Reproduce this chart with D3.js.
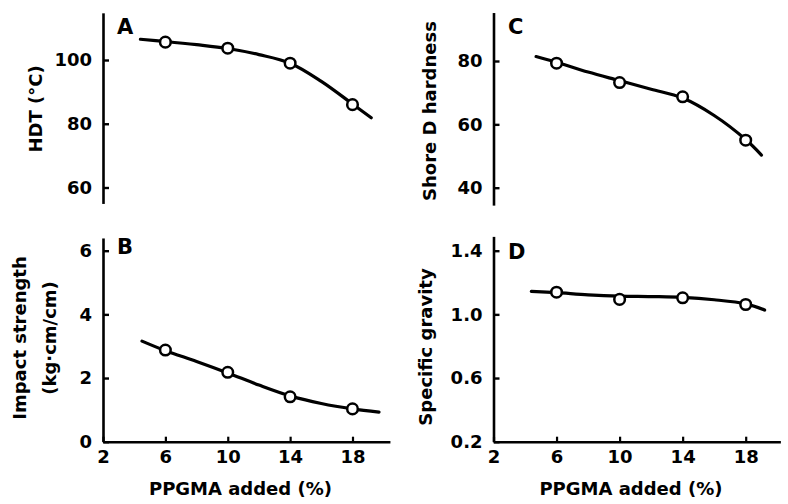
<!DOCTYPE html>
<html>
<head>
<meta charset="utf-8">
<script src="https://cdn.jsdelivr.net/npm/d3@7"></script>
<style>
  body { margin: 0; background: #fff; }
  svg text { font-family: "DejaVu Sans", sans-serif; font-weight: bold; fill: #000; }
</style>
</head>
<body>
<div id="chart"></div>
<script>
// PPGMA added (%) at which samples were measured
const ppgma = [6, 10, 14, 18];
const xTicks = [2, 6, 10, 14, 18];

// measured values (open circles)
const hdt = [105.6, 103.7, 99, 86];
const impact = [2.88, 2.18, 1.41, 1.03];
const shore = [79.3, 73.2, 68.7, 55];
const gravity = [1.139, 1.094, 1.104, 1.062];

// drawn trend curves (x, y)
const hdtCurve = [[4.4, 106.5], [6, 105.8], [8, 104.8], [10, 103.6], [12, 101.7],
    [14, 99], [16, 93.3], [18, 86.2], [19.2, 81.9]];
const impactCurve = [[4.5, 3.16], [6, 2.86], [8, 2.52], [10, 2.16], [12, 1.78],
    [14, 1.44], [16, 1.2], [18, 1.03], [19.7, 0.93]];
const shoreCurve = [[4.7, 81.4], [6, 79.6], [8, 76.5], [10, 73.8], [12, 71.1],
    [14, 68.3], [16, 62.8], [18, 55.2], [19.0, 50.3]];
const gravityCurve = [[4.4, 1.144], [6, 1.136], [8, 1.123], [10, 1.115], [12, 1.112],
    [14, 1.107], [16, 1.092], [18, 1.066], [19.2, 1.027]];

const hdtTicks = [60, 80, 100];
const impactTicks = [0, 2, 4, 6];
const shoreTicks = [40, 60, 80];
const gravityTicks = [0.2, 0.6, 1.0, 1.4];

const width = 788, height = 504;

const svg = d3.select("#chart")
    .append("svg")
    .attr("width", width)
    .attr("height", height);

// one panel per property
const panels = [
    { letter: "A", values: hdt, curve: hdtCurve, ticks: hdtTicks, fmt: d3.format("d"),
      x0: 103, x1: 352.5, axisEnd: 20.4,
      yDom: [60, 100], yRange: [187.5, 60], yAxisDom: [55, 114.8], xAxis: false,
      label: ["HDT (°C)"], labelX: [42], labelY: 109,
      letterPos: [117, 34] },
    { letter: "B", values: impact, curve: impactCurve, ticks: impactTicks, fmt: d3.format("d"),
      x0: 103, x1: 352.5, axisEnd: 20.4,
      yDom: [0, 6], yRange: [441.7, 250.7], yAxisDom: [0, 6.4], xAxis: true,
      label: ["Impact strength", "(kg·cm/cm)"], labelX: [26, 56], labelY: 338,
      letterPos: [117, 254] },
    { letter: "C", values: shore, curve: shoreCurve, ticks: shoreTicks, fmt: d3.format("d"),
      x0: 493.5, x1: 745.7, axisEnd: 20.2,
      yDom: [40, 80], yRange: [187.7, 61], yAxisDom: [34.5, 95.3], xAxis: false,
      label: ["Shore D hardness"], labelX: [436], labelY: 111,
      letterPos: [508, 34] },
    { letter: "D", values: gravity, curve: gravityCurve, ticks: gravityTicks, fmt: d3.format(".1f"),
      x0: 493.5, x1: 745.7, axisEnd: 20.2,
      yDom: [0.2, 1.4], yRange: [441.7, 250.7], yAxisDom: [0.2, 1.49], xAxis: true,
      label: ["Specific gravity"], labelX: [432], labelY: 347,
      letterPos: [508, 259] }
];

panels.forEach(p => {
    const x = d3.scaleLinear().domain([2, 18]).range([p.x0, p.x1]);
    const y = d3.scaleLinear().domain(p.yDom).range(p.yRange);

    const g = svg.append("g");

    // y axis line, drawn over the extended domain
    const yAxisScale = y.copy().domain(p.yAxisDom).range(p.yAxisDom.map(y));
    g.append("g")
        .attr("transform", `translate(${x(2)},0)`)
        .call(d3.axisLeft(yAxisScale).tickValues(p.ticks).tickFormat(p.fmt)
            .tickSizeInner(-6).tickSizeOuter(0).tickPadding(11))
        .call(a => {
            a.select(".domain").attr("stroke", "#000").attr("stroke-width", 2.6);
            a.selectAll(".tick line").attr("stroke", "#000").attr("stroke-width", 2.4);
            a.selectAll(".tick text").attr("font-size", 18).attr("fill", "#000")
                .attr("font-family", "DejaVu Sans").attr("font-weight", "bold");
        });

    if (p.xAxis) {
        const xAxisScale = x.copy().domain([2, p.axisEnd]).range([x(2), x(p.axisEnd)]);
        g.append("g")
            .attr("transform", `translate(0,${y(p.yDom[0])})`)
            .call(d3.axisBottom(xAxisScale).tickValues(xTicks).tickFormat(d3.format("d"))
                .tickSizeInner(-5).tickSizeOuter(0).tickPadding(9))
            .call(a => {
                a.select(".domain").attr("stroke", "#000").attr("stroke-width", 2.6);
                a.selectAll(".tick line").attr("stroke", "#000").attr("stroke-width", 2.2);
                a.selectAll(".tick text").attr("font-size", 18).attr("fill", "#000")
                    .attr("font-family", "DejaVu Sans").attr("font-weight", "bold");
            });

        g.append("text")
            .attr("x", (x(2) + x(p.axisEnd)) / 2 - 6)
            .attr("y", 495)
            .attr("text-anchor", "middle")
            .attr("font-size", 18)
            .text("PPGMA added (%)");
    }

    // trend curve
    const line = d3.line()
        .x(d => x(d[0]))
        .y(d => y(d[1]))
        .curve(d3.curveCatmullRom.alpha(0.5));

    g.append("path")
        .attr("d", line(p.curve))
        .attr("fill", "none")
        .attr("stroke", "#000")
        .attr("stroke-width", 3.2)
        .attr("stroke-linecap", "round");

    // measured points
    g.selectAll("circle")
        .data(p.values)
        .enter()
        .append("circle")
        .attr("cx", (d, i) => x(ppgma[i]))
        .attr("cy", d => y(d))
        .attr("r", 5.3)
        .attr("fill", "#fff")
        .attr("stroke", "#000")
        .attr("stroke-width", 2.5);

    // panel letter
    g.append("text")
        .attr("x", p.letterPos[0])
        .attr("y", p.letterPos[1])
        .attr("font-size", 21)
        .text(p.letter);

    // y axis title (rotated)
    p.label.forEach((t, i) => {
        g.append("text")
            .attr("transform", `translate(${p.labelX[i]},${p.labelY}) rotate(-90)`)
            .attr("text-anchor", "middle")
            .attr("font-size", 18)
            .text(t);
    });
});
</script>
</body>
</html>
